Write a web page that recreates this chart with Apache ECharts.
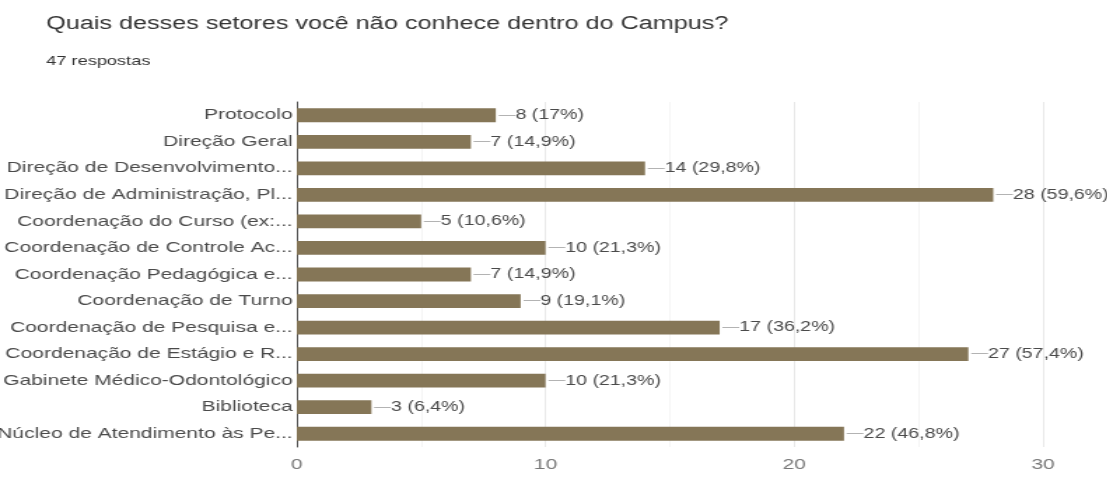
<!DOCTYPE html>
<html>
<head>
<meta charset="utf-8">
<script src="https://cdn.jsdelivr.net/npm/echarts@6/dist/echarts.min.js"></script>
<style>
  html, body { margin: 0; padding: 0; background: #fff; overflow: hidden; }
  #wrap { width: 1108px; height: 477px; overflow: hidden; }
  /* the chart is laid out narrow and widened horizontally */
  #chart { width: 791px; height: 477px; transform: scaleX(1.4); transform-origin: 0 0; }
</style>
</head>
<body>
<div id="wrap"><div id="chart"></div></div>
<script>
const title = 'Quais desses setores você não conhece dentro do Campus?';
const subtitle = '47 respostas';
const totalResponses = 47;

const categories = [
  'Protocolo',
  'Direção Geral',
  'Direção de Desenvolvimento...',
  'Direção de Administração, Pl...',
  'Coordenação do Curso (ex:...',
  'Coordenação de Controle Ac...',
  'Coordenação Pedagógica e...',
  'Coordenação de Turno',
  'Coordenação de Pesquisa e...',
  'Coordenação de Estágio e R...',
  'Gabinete Médico-Odontológico',
  'Biblioteca',
  'Núcleo de Atendimento às Pe...'
];

const counts = [8, 7, 14, 28, 5, 10, 7, 9, 17, 27, 10, 3, 22];

const xTicks = [0, 10, 20, 30];

function pct(v) {
  let s = (v / totalResponses * 100).toFixed(1);
  if (s.endsWith('.0')) s = s.slice(0, -2);
  return s.replace('.', ',') + '%';
}

const font = 'Liberation Sans, Arial, sans-serif';
const chart = echarts.init(document.getElementById('chart'), null, { renderer: 'canvas' });

chart.setOption({
  animation: false,
  textStyle: { fontFamily: font },
  title: {
    text: title,
    subtext: subtitle,
    left: 28,
    top: 10,
    itemGap: 22,
    textStyle: { fontSize: 18, fontWeight: 'normal', color: '#333', fontFamily: font },
    subtextStyle: { fontSize: 13, color: '#333', fontFamily: font }
  },
  grid: { left: 212, right: 46, top: 102, bottom: 30, containLabel: false, outerBoundsMode: 'none' },
  xAxis: {
    type: 'value',
    min: xTicks[0],
    max: xTicks[xTicks.length - 1],
    interval: xTicks[1] - xTicks[0],
    axisLine: { show: false },
    axisTick: { show: false },
    axisLabel: { color: '#777', fontSize: 15, margin: 10 },
    splitLine: { show: true, lineStyle: { color: '#e8e8e8', width: 1 } },
    minorTick: { show: false, splitNumber: 2 },
    minorSplitLine: { show: true, lineStyle: { color: '#f5f5f5', width: 1 } }
  },
  yAxis: {
    type: 'category',
    data: categories,
    inverse: true,
    axisLine: { show: true, lineStyle: { color: '#555', width: 1 } },
    axisTick: { show: false },
    axisLabel: { color: '#4a4a4a', fontSize: 15, margin: 3 },
    splitLine: { show: false }
  },
  series: [{
    type: 'bar',
    data: counts,
    barWidth: '52%',
    itemStyle: { color: '#857657' },
    label: {
      show: true,
      position: 'right',
      distance: 2,
      formatter: p => '{d|—}{v|' + p.value + ' (' + pct(p.value) + ')}',
      rich: {
        d: { color: '#aaa', fontSize: 12 },
        v: { color: '#4a4a4a', fontSize: 14 }
      }
    }
  }]
});
</script>
</body>
</html>
